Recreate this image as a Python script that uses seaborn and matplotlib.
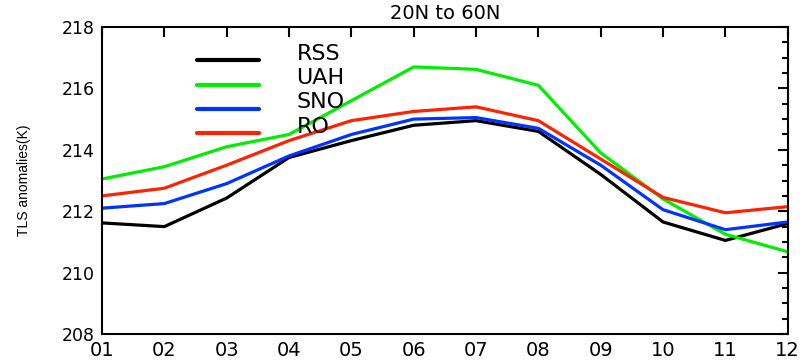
import pandas as pd
import matplotlib
matplotlib.use('Agg')
import matplotlib.pyplot as plt
import seaborn as sns
from matplotlib.ticker import MultipleLocator

# Monatswerte 20N bis 60N
months = list(range(1, 13))
month_labels = ['01', '02', '03', '04', '05', '06', '07', '08', '09', '10', '11', '12']
rss = [211.62, 211.5, 212.43, 213.75, 214.3, 214.8, 214.95, 214.6, 213.2, 211.65, 211.05, 211.6]
uah = [213.05, 213.45, 214.1, 214.5, 215.6, 216.7, 216.62, 216.1, 213.9, 212.4, 211.25, 210.68]
sno = [212.1, 212.25, 212.9, 213.8, 214.5, 215.0, 215.05, 214.7, 213.5, 212.05, 211.4, 211.65]
ro = [212.5, 212.75, 213.5, 214.3, 214.95, 215.25, 215.4, 214.95, 213.7, 212.45, 211.95, 212.15]

series = {'RSS': rss, 'UAH': uah, 'SNO': sno, 'RO': ro}
farben = {'RSS': 'black', 'UAH': '#00ee00', 'SNO': '#0033ff', 'RO': '#ff2200'}

df = pd.concat([pd.DataFrame({'month': months, 'value': v, 'source': k})
                for k, v in series.items()], ignore_index=True)

sns.set_style('white')
plt.rcParams['font.family'] = ['DejaVu Sans']
plt.rcParams.update({'text.color': 'black', 'axes.labelcolor': 'black',
                     'xtick.color': 'black', 'ytick.color': 'black'})

fig = plt.figure(figsize=(8.03, 3.6), dpi=100)
ax = fig.add_axes([0.127, 0.072, 0.854, 0.853])

sns.lineplot(data=df, x='month', y='value', hue='source', palette=farben,
             linewidth=2.3, ax=ax)

ax.set_xlim(1, 12)
ax.set_ylim(208, 218)
ax.set_xticks(months)
ax.set_xticklabels(month_labels)
ax.yaxis.set_major_locator(MultipleLocator(2))
ax.yaxis.set_minor_locator(MultipleLocator(0.5))
ax.tick_params(axis='both', which='both', direction='in', top=True, right=True,
               width=1.5, color='black', labelcolor='black')
ax.tick_params(which='major', length=7)
ax.tick_params(which='minor', length=4)
ax.tick_params(axis='x', labelsize=14, pad=5)
ax.tick_params(axis='y', labelsize=12.5, pad=5)
for s in ax.spines.values():
    s.set_linewidth(1.5)
    s.set_color('black')

ax.set_xlabel('')
ax.set_ylabel('TLS anomalies(K)', fontsize=10, family='Liberation Sans', color='black')
ax.yaxis.set_label_coords(-0.104, 0.5)
ax.set_title('20N to 60N', fontsize=14, pad=6, color='black')

leg = ax.legend(loc='upper left', bbox_to_anchor=(0.125, 0.975), frameon=False,
                fontsize=16, handlelength=2.8, handletextpad=1.7,
                labelspacing=0.2, borderaxespad=0)
for txt in leg.get_texts():
    txt.set_color('black')
for line in leg.get_lines():
    line.set_linewidth(3)
    line.set_ydata([y - 6 for y in line.get_ydata()])

fig.savefig('out.png', dpi=100)
